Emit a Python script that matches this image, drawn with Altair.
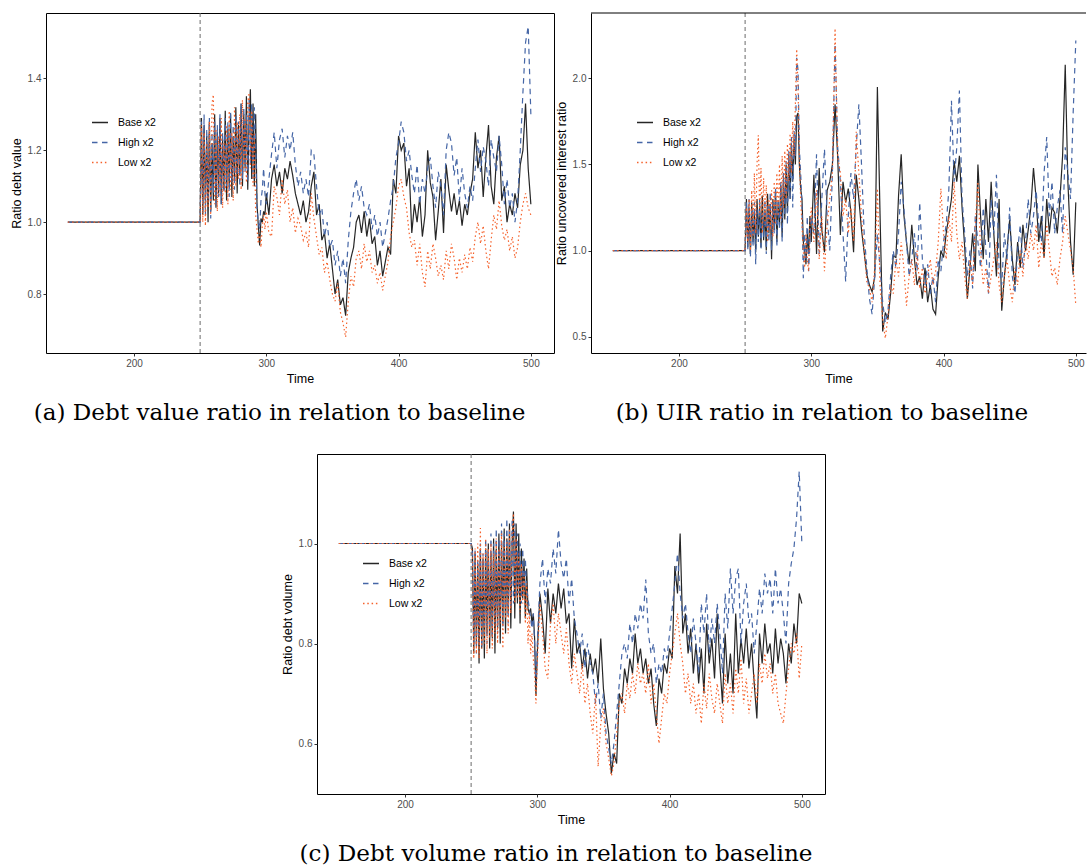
import altair as alt
import pandas as pd

# time grid: start, then every step 250-299, then every 2nd step 300-500
T = [150] + list(range(250, 300)) + list(range(300, 501, 2))

SERIES = ["Base x2", "High x2", "Low x2"]
COLORS = ["#262626", "#4566a6", "#f5612b"]
DASHES = [[1, 0], [5.5, 4.5], [1.5, 2.8]]

# ---------------- panel (a): debt value ratio ----------------
a_base = [1.0, 1.0,
    1.29, 1.02, 1.27, 1.05, 1.24, 1.00, 1.28, 1.03, 1.22, 1.06,
    1.30, 1.04, 1.25, 1.08, 1.29, 1.05, 1.23, 1.09, 1.31, 1.06,
    1.26, 1.10, 1.30, 1.07, 1.24, 1.12, 1.32, 1.08, 1.27, 1.13,
    1.33, 1.10, 1.30, 1.15, 1.35, 1.09, 1.28, 1.37, 1.12, 1.33,
    1.10, 1.30, 1.05, 0.99, 0.935, 1.01, 1.00, 1.03, 1.02,
    1.08, 1.02, 1.12, 1.16, 1.10, 1.14, 1.08, 1.15, 1.12, 1.17,
    1.13, 1.08, 1.05, 1.02, 1.06, 1.00, 1.03, 1.10, 1.14, 1.02,
    1.05, 0.95, 0.97, 0.90, 0.94, 0.87, 0.80, 0.84, 0.77, 0.79,
    0.74, 0.86, 0.90, 0.93, 1.00, 1.02, 0.97, 1.03, 0.96, 1.01,
    0.94, 0.96, 0.88, 0.92, 0.85, 0.89, 0.93, 0.91, 1.12, 1.08,
    1.24, 1.20, 1.22, 1.10, 1.15, 0.97, 1.05, 1.00, 1.07, 0.96,
    1.02, 1.20, 1.11, 1.07, 0.95, 1.03, 1.12, 0.97, 1.16, 1.09,
    1.03, 1.08, 1.02, 1.06, 0.99, 1.05, 1.02, 1.08, 1.12, 1.25,
    1.15, 1.20, 1.07, 1.18, 1.27, 1.10, 1.05, 1.18, 1.24, 1.06,
    1.10, 1.00, 1.05, 1.02, 1.08, 1.04, 1.16, 1.20, 1.33, 1.15,
    1.05]
a_high = [1.0, 1.0,
    1.28, 1.03, 1.30, 1.02, 1.26, 1.06, 1.29, 1.01, 1.25, 1.08,
    1.28, 1.04, 1.27, 1.07, 1.30, 1.05, 1.25, 1.08, 1.29, 1.10,
    1.28, 1.07, 1.31, 1.11, 1.27, 1.09, 1.30, 1.13, 1.28, 1.10,
    1.33, 1.12, 1.32, 1.14, 1.30, 1.11, 1.34, 1.16, 1.33, 1.12,
    1.32, 1.22, 1.04, 1.00, 0.98, 1.06, 1.09, 1.15, 1.08,
    1.05, 1.12, 1.19, 1.25, 1.15, 1.23, 1.26, 1.18, 1.24, 1.20,
    1.25, 1.16, 1.10, 1.14, 1.08, 1.12, 1.07, 1.20, 1.19, 1.10,
    1.02, 1.04, 0.96, 1.00, 0.93, 0.95, 0.88, 0.92, 0.85, 0.90,
    0.83, 0.95, 1.03, 1.08, 1.12, 1.06, 1.10, 1.04, 1.02, 1.05,
    0.98, 1.02, 0.96, 1.00, 0.93, 0.97, 1.01, 1.06, 1.10, 1.18,
    1.22, 1.28, 1.25, 1.17, 1.20, 1.13, 1.08, 1.16, 1.05, 1.12,
    1.08, 1.15, 1.18, 1.10, 1.04, 1.14, 1.10, 1.02, 1.20, 1.25,
    1.22, 1.13, 1.18, 1.06, 1.15, 1.08, 1.04, 1.10, 1.06, 1.15,
    1.23, 1.14, 1.21, 1.17, 1.10, 1.23, 1.18, 1.14, 1.24, 1.16,
    1.05, 1.12, 1.04, 1.08, 1.00, 1.06, 1.20, 1.36, 1.50, 1.545,
    1.30]
a_low = [1.0, 1.0,
    1.27, 1.00, 1.25, 0.99, 1.22, 1.04, 1.28, 1.02, 1.33, 1.355,
    1.05, 1.26, 1.03, 1.24, 1.07, 1.29, 1.04, 1.22, 1.08, 1.27,
    1.05, 1.31, 1.09, 1.25, 1.06, 1.32, 1.10, 1.28, 1.12, 1.30,
    1.09, 1.34, 1.14, 1.29, 1.11, 1.33, 1.36, 1.15, 1.31, 1.10,
    1.25, 1.02, 0.98, 0.94, 0.97, 0.93, 0.99, 1.02, 0.98,
    1.03, 0.97, 0.96, 1.10, 1.07, 1.02, 1.12, 1.05, 1.09, 1.00,
    1.04, 0.97, 1.01, 0.99, 0.95, 0.97, 0.93, 1.08, 1.01, 0.96,
    0.91, 0.93, 0.86, 0.89, 0.84, 0.80, 0.78, 0.83, 0.75, 0.72,
    0.68, 0.78, 0.85, 0.82, 0.90, 0.92, 0.87, 0.94, 0.89, 0.92,
    0.86, 0.88, 0.83, 0.86, 0.81, 0.85, 0.89, 0.96, 1.00, 1.04,
    1.10, 1.12, 1.07, 1.04, 0.97, 0.93, 0.95, 0.88, 0.94, 0.86,
    0.82, 0.92, 0.87, 0.94, 0.90, 0.85, 0.88, 0.84, 0.92, 0.87,
    0.94, 0.90, 0.84, 0.90, 0.86, 0.91, 0.87, 0.93, 0.89, 0.96,
    1.00, 0.94, 0.99, 0.92, 0.87, 0.95, 1.02, 0.98, 1.06, 0.99,
    0.95, 0.98, 0.92, 0.96, 0.90, 0.93, 1.00, 1.05, 1.08, 1.04,
    1.02]

# ---------------- panel (b): UIR ratio ----------------
b_base = [1.0, 1.0,
    1.30, 1.02, 1.25, 0.98, 1.28, 1.05, 1.22, 0.99, 1.30, 1.08,
    1.26, 1.02, 1.32, 1.06, 1.24, 1.00, 1.33, 1.10, 1.27, 0.95,
    1.30, 1.12, 1.35, 1.05, 1.28, 1.15, 1.38, 1.08, 1.42, 1.18,
    1.50, 1.22, 1.56, 1.30, 1.62, 1.40, 1.65, 1.50, 1.78, 1.80,
    1.50, 1.36, 1.30, 1.05, 1.00, 0.92, 1.10, 0.98, 1.20,
    1.05, 1.44, 0.98, 1.48, 1.12, 0.99, 1.35, 1.40, 1.50, 1.85,
    1.54, 1.09, 1.40, 1.28, 1.36, 1.22, 0.99, 1.44, 1.30, 1.12,
    0.99, 0.86, 0.80, 0.76, 0.85, 1.95, 1.21, 0.53, 0.64, 0.60,
    0.75, 0.97, 0.96, 1.32, 1.56, 1.21, 1.05, 0.92, 1.15, 0.95,
    0.80, 0.85, 0.72, 0.90, 0.70, 0.80, 0.66, 0.63, 0.85, 1.00,
    0.96, 1.10, 1.20, 1.30, 1.52, 1.40, 1.55, 1.25, 1.02, 0.72,
    0.90, 1.10, 0.88, 1.50, 1.20, 0.95, 1.30, 1.05, 1.40, 1.10,
    0.85, 1.30, 0.65, 0.85, 1.00, 1.18, 0.95, 0.80, 1.05, 0.90,
    1.15, 1.00, 1.12, 1.25, 1.48, 1.30, 1.05, 1.20, 0.96, 1.30,
    1.10, 1.25, 1.22, 1.10, 1.30, 1.55, 2.08, 1.40, 1.05, 0.86,
    1.28]
b_high = [1.0, 1.0,
    1.28, 1.00, 1.30, 0.96, 1.25, 1.02, 1.28, 0.92, 1.24, 1.05,
    1.30, 1.00, 1.22, 1.08, 1.30, 0.98, 1.26, 1.05, 1.34, 1.00,
    1.28, 1.10, 1.36, 1.02, 1.30, 1.12, 1.40, 1.05, 1.45, 1.20,
    1.52, 1.15, 1.58, 1.30, 1.66, 1.25, 1.70, 1.55, 2.12, 2.05,
    1.60, 1.45, 1.25, 0.84, 1.10, 0.95, 1.20, 0.88, 1.05,
    1.20, 1.10, 1.56, 0.98, 1.30, 1.59, 1.20, 1.00, 1.45, 2.20,
    1.60, 1.40, 1.10, 0.82, 1.20, 1.45, 1.30, 1.60, 1.85, 1.50,
    1.10, 0.90, 0.72, 0.63, 0.85, 1.10, 0.90, 0.70, 0.58, 0.65,
    0.85, 1.00, 0.90, 1.10, 1.40, 1.25, 1.05, 0.85, 0.95, 1.10,
    0.88, 1.28, 0.95, 0.80, 0.92, 0.75, 0.85, 0.70, 0.95, 0.88,
    1.05, 1.15, 1.35, 1.87, 1.40, 1.60, 1.93, 1.30, 1.10, 0.85,
    1.00, 0.78, 1.20, 1.05, 0.90, 1.25, 1.00, 0.75, 1.30, 1.10,
    1.44, 0.90, 0.80, 1.10, 0.95, 1.25, 0.85, 0.75, 1.00, 1.15,
    0.90, 1.05, 1.30, 1.10, 1.20, 1.35, 1.15, 1.05, 1.45, 1.66,
    1.20, 1.40, 1.10, 1.25, 1.35, 1.10, 1.60, 1.45, 1.30, 1.80,
    2.22]
b_low = [1.0, 1.0,
    1.25, 1.05, 1.30, 1.00, 1.35, 1.08, 1.45, 1.10, 1.50, 1.67,
    1.20, 1.48, 1.10, 1.42, 1.15, 1.38, 1.05, 1.30, 1.12, 1.35,
    1.08, 1.40, 1.15, 1.45, 1.20, 1.50, 1.18, 1.55, 1.25, 1.58,
    1.30, 1.62, 1.40, 1.68, 1.45, 1.75, 1.55, 1.85, 2.17, 1.95,
    1.55, 1.30, 1.15, 1.00, 0.90, 1.10, 0.95, 0.88, 1.15,
    1.25, 1.05, 1.35, 0.95, 1.20, 0.88, 1.15, 1.30, 1.45, 2.29,
    1.55, 1.45, 1.20, 1.30, 1.10, 1.25, 1.05, 1.69, 1.45, 1.20,
    1.00, 0.82, 0.78, 0.70, 0.90, 1.36, 0.80, 0.60, 0.49, 0.62,
    0.80, 0.75, 0.95, 0.85, 1.05, 0.90, 0.68, 0.85, 0.95, 0.80,
    1.00, 0.78, 0.90, 0.75, 0.85, 0.95, 0.80, 0.88, 1.05, 1.36,
    1.10, 0.95, 1.20, 1.05, 1.40, 1.10, 0.95, 1.05, 0.85, 0.72,
    0.95, 0.80, 1.15, 1.40, 1.00, 0.80, 0.90, 0.75, 0.85, 0.95,
    1.05, 0.80, 0.70, 0.85, 0.95, 0.80, 0.70, 0.90, 0.80, 1.00,
    0.85, 1.05, 0.95, 1.10, 1.00, 1.15, 0.90, 1.05, 0.95, 1.15,
    1.00, 0.85, 0.90, 0.80, 0.95, 1.05, 1.20, 1.10, 1.00, 0.90,
    0.68]

# ---------------- panel (c): debt volume ratio ----------------
c_base = [1.0, 1.0,
    0.99, 0.78, 0.98, 0.80, 0.96, 0.76, 0.99, 0.79, 0.97, 0.77,
    0.99, 0.82, 1.00, 0.79, 0.98, 0.81, 1.01, 0.78, 0.99, 0.83,
    1.02, 0.80, 1.00, 0.84, 1.03, 0.82, 1.01, 0.86, 1.04, 0.83,
    1.00, 1.064, 0.85, 1.04, 0.88, 1.02, 0.84, 0.99, 0.89, 0.97,
    0.85, 0.95, 0.87, 0.86, 0.87, 0.84, 0.86, 0.81, 0.695,
    0.78, 0.90, 0.85, 0.78, 0.91, 0.84, 0.90, 0.86, 0.92, 0.87,
    0.91, 0.84, 0.86, 0.75, 0.85, 0.78, 0.80, 0.75, 0.79, 0.73,
    0.78, 0.74, 0.77, 0.72, 0.81, 0.71, 0.66, 0.62, 0.54, 0.58,
    0.56, 0.70, 0.68, 0.75, 0.72, 0.77, 0.74, 0.82, 0.76, 0.79,
    0.74, 0.77, 0.72, 0.75, 0.68, 0.635, 0.73, 0.70, 0.76, 0.74,
    0.79, 0.77, 0.955, 0.90, 1.02, 0.82, 0.86, 0.78, 0.83, 0.74,
    0.80, 0.72, 0.79, 0.70, 0.84, 0.76, 0.81, 0.73, 0.86, 0.76,
    0.68, 0.82, 0.72, 0.78, 0.70, 0.86, 0.74, 0.81, 0.76, 0.83,
    0.75, 0.80, 0.72, 0.65, 0.82, 0.76, 0.84, 0.78, 0.80, 0.74,
    0.83, 0.76, 0.81, 0.78, 0.72, 0.80, 0.76, 0.84, 0.80, 0.90,
    0.88]
c_high = [1.0, 1.0,
    0.98, 0.80, 0.99, 0.78, 0.97, 0.80, 1.00, 0.79, 0.98, 0.82,
    1.01, 0.80, 0.99, 0.83, 1.02, 0.81, 1.00, 0.84, 1.03, 0.82,
    1.01, 0.85, 1.04, 0.83, 1.02, 0.86, 1.05, 0.84, 1.03, 0.87,
    1.05, 0.88, 1.04, 0.89, 1.02, 0.90, 1.00, 0.88, 0.99, 0.90,
    0.97, 0.91, 0.89, 0.87, 0.85, 0.83, 0.86, 0.80, 0.72,
    0.80, 0.92, 0.97, 0.88, 0.95, 0.92, 0.99, 0.94, 1.028, 0.96,
    0.93, 0.97, 0.88, 0.93, 0.85, 0.82, 0.78, 0.82, 0.75, 0.80,
    0.76, 0.74, 0.68, 0.72, 0.65, 0.70, 0.62, 0.59, 0.56, 0.60,
    0.66, 0.72, 0.78, 0.80, 0.77, 0.84, 0.80, 0.86, 0.83, 0.88,
    0.85, 0.928, 0.82, 0.78, 0.80, 0.72, 0.76, 0.74, 0.79, 0.77,
    0.82, 0.87, 0.92, 0.98, 0.90, 0.85, 0.88, 0.82, 0.78, 0.85,
    0.80, 0.74, 0.88, 0.82, 0.90, 0.78, 0.85, 0.80, 0.88, 0.82,
    0.74, 0.90, 0.83, 0.95, 0.86, 0.93, 0.95, 0.80, 0.88, 0.92,
    0.84, 0.86, 0.78, 0.84, 0.91, 0.86, 0.94, 0.90, 0.93, 0.86,
    0.95, 0.88, 0.91, 0.86, 0.80, 0.92, 0.96, 0.99, 1.05, 1.144,
    1.00]
c_low = [1.0, 1.0,
    0.97, 0.77, 0.99, 0.78, 1.00, 0.77, 1.031, 0.79, 0.98, 0.80,
    1.01, 0.78, 0.99, 0.81, 1.00, 0.79, 0.98, 0.82, 1.01, 0.80,
    0.99, 0.84, 1.02, 0.79, 1.00, 0.85, 1.01, 0.82, 1.03, 0.86,
    1.02, 1.06, 0.88, 1.01, 0.89, 0.98, 0.86, 0.96, 0.88, 0.94,
    0.84, 0.92, 0.80, 0.86, 0.78, 0.82, 0.77, 0.74, 0.68,
    0.76, 0.88, 0.82, 0.75, 0.73, 0.84, 0.88, 0.80, 0.86, 0.82,
    0.78, 0.83, 0.76, 0.72, 0.78, 0.74, 0.70, 0.76, 0.68, 0.72,
    0.66, 0.62, 0.70, 0.554, 0.64, 0.67, 0.60, 0.57, 0.535, 0.56,
    0.62, 0.68, 0.70, 0.66, 0.72, 0.69, 0.74, 0.70, 0.76, 0.72,
    0.74, 0.70, 0.76, 0.68, 0.72, 0.66, 0.60, 0.65, 0.70, 0.68,
    0.74, 0.78, 0.82, 0.86, 0.80, 0.76, 0.70, 0.74, 0.68, 0.72,
    0.66, 0.70, 0.64, 0.72, 0.67, 0.74, 0.69, 0.66, 0.72, 0.68,
    0.64, 0.74, 0.68, 0.72, 0.66, 0.75, 0.70, 0.77, 0.68, 0.73,
    0.66, 0.70, 0.74, 0.68, 0.76, 0.72, 0.78, 0.73, 0.76, 0.70,
    0.74, 0.68, 0.66, 0.64, 0.70, 0.75, 0.80, 0.78, 0.82, 0.73,
    0.80]

X_TICKS = [200, 300, 400, 500]
A_TICKS = [0.8, 1.0, 1.2, 1.4]
B_TICKS = [0.5, 1.0, 1.5, 2.0]
C_TICKS = [0.6, 0.8, 1.0]

CAPTIONS = ["(a) Debt value ratio in relation to baseline",
            "(b) UIR ratio in relation to baseline",
            "(c) Debt volume ratio in relation to baseline"]
YTITLES = ["Ratio debt value", "Ratio uncovered interest ratio", "Ratio debt volume"]

H = 340


def panel(series_vals, ytitle, ydomain, yticks, width, xmax, framed, caption, dx):
    rows = []
    for name, vals in zip(SERIES, series_vals):
        assert len(vals) == len(T), (name, len(vals), len(T))
        rows += [{"t": t, "v": v, "s": name, "o": i} for i, (t, v) in enumerate(zip(T, vals))]
    df = pd.DataFrame(rows)
    leg = alt.Legend(title=None, orient="none", legendX=45, legendY=100.5,
                     symbolType="stroke", symbolSize=256, symbolStrokeWidth=1.4,
                     labelFontSize=10.5, labelFont="Liberation Sans", labelColor="black",
                     labelOffset=9, rowPadding=5, padding=0)
    x = alt.X("t:Q", scale=alt.Scale(domain=[133.5, xmax], nice=False, zero=False),
              axis=alt.Axis(values=X_TICKS, format="d", title="Time", titleX=width / 2,
                            titleY=25.5, titleBaseline="middle", titleAlign="center",
                            domain=not framed, domainColor="black", domainWidth=1))
    y = alt.Y("v:Q", scale=alt.Scale(domain=ydomain, nice=False, zero=False),
              axis=alt.Axis(values=yticks, format=".1f", title=ytitle, titleX=-29.5,
                            titleY=H / 2, titleAngle=270, titleBaseline="middle",
                            titleAlign="center", domain=not framed, domainColor="black",
                            domainWidth=1))
    lines = alt.Chart(df).mark_line(strokeWidth=1.2, clip=True).encode(
        x=x, y=y,
        color=alt.Color("s:N", scale=alt.Scale(domain=SERIES, range=COLORS), legend=leg),
        strokeDash=alt.StrokeDash("s:N", scale=alt.Scale(domain=SERIES, range=DASHES), legend=leg),
        order="o:Q",
    )
    vline = alt.Chart(pd.DataFrame({"t": [250]})).mark_rule(
        color="#6b6b6b", strokeDash=[4, 3], strokeWidth=1).encode(x="t:Q")
    layers = [lines, vline]
    if not framed:
        top = alt.Chart(pd.DataFrame({"k": [0]})).mark_rule(color="black", strokeWidth=1).encode(
            x=alt.value(0), x2=alt.value(width), y=alt.value(0))
        layers.append(top)
    view = alt.ViewBackground(stroke="black", strokeWidth=1) if framed else alt.ViewBackground(stroke="transparent")
    return alt.layer(*layers).properties(
        width=width, height=H, view=view,
        title=alt.TitleParams(caption, orient="bottom", anchor="middle", dx=dx, offset=35,
                              baseline="alphabetic", font="DejaVu Serif", fontSize=23.1,
                              fontWeight="normal", color="black"),
    )


def indep(ch):
    return ch.resolve_scale(color="independent", strokeDash="independent").resolve_legend(
        color="independent", strokeDash="independent")


pa = panel([a_base, a_high, a_low], YTITLES[0], [0.636, 1.582], A_TICKS, 508, 517.5, True, CAPTIONS[0], -20.5)
pb = panel([b_base, b_high, b_low], YTITLES[1], [0.405, 2.380], B_TICKS, 495, 507.7, False, CAPTIONS[1], -16.5)
pc = panel([c_base, c_high, c_low], YTITLES[2], [0.499, 1.179], C_TICKS, 508, 517.5, True, CAPTIONS[2], -15)

spacer = alt.Chart(pd.DataFrame({"k": [0]})).mark_point(opacity=0).encode(
    x=alt.X("k:Q", axis=None), y=alt.Y("k:Q", axis=None)
).properties(width=271, height=H, view=alt.ViewBackground(stroke="transparent"))

row1 = indep(alt.hconcat(pa, pb, spacing=37, bounds="flush"))
row2 = indep(alt.hconcat(spacer, pc, spacing=0, bounds="flush"))

chart = indep(alt.vconcat(row1, row2, spacing=27)).properties(
    padding={"left": 10, "top": 12, "right": 0, "bottom": 0},
    background="white",
).configure_axis(
    grid=False, labelFont="Liberation Sans", titleFont="Liberation Sans",
    labelFontSize=10, titleFontSize=12.5, labelColor="#4d4d4d", titleColor="black",
    titleFontWeight="normal", tickColor="#333333", tickSize=3, tickWidth=1,
    labelPadding=2,
)

chart.save("out.html", embed_options={"renderer": "svg", "actions": False})
